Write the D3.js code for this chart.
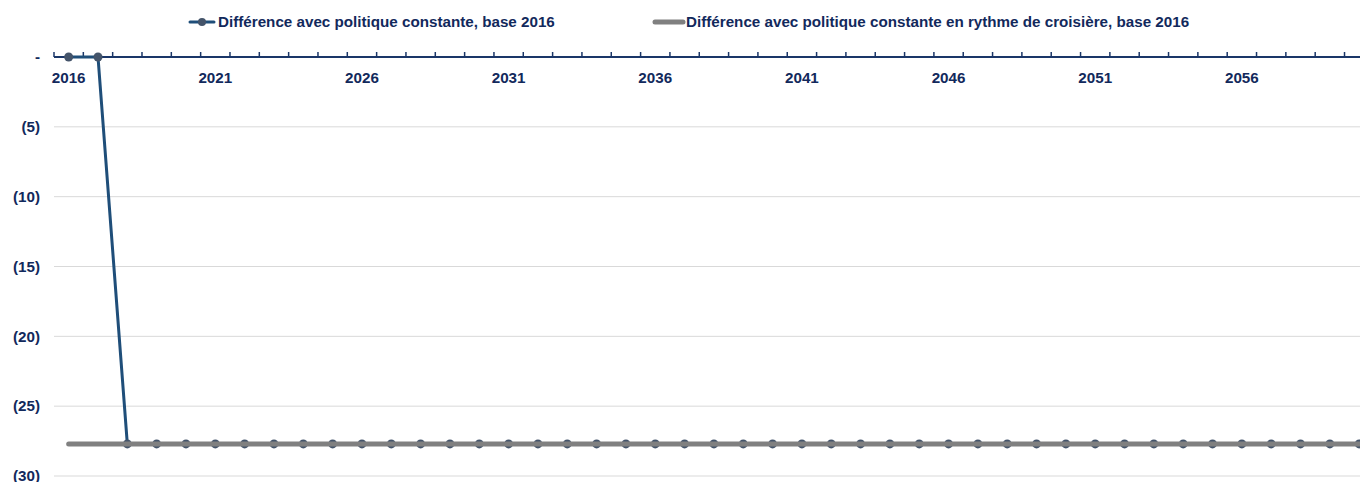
<!DOCTYPE html>
<html>
<head>
<meta charset="utf-8">
<script src="https://cdn.jsdelivr.net/npm/d3@7"></script>
<style>
  body { margin: 0; background: #fff; }
  text { font-family: "Liberation Sans", Arial, sans-serif; font-weight: bold; fill: #12295c; }
</style>
</head>
<body>
<div id="chart"></div>
<script>
var years = d3.range(2016, 2061);
var serieConstante = [0, 0].concat(d3.range(2018, 2061).map(function() { return -27.7; }));
var serieCroisiere = years.map(function() { return -27.7; });
var yTicks = [0, -5, -10, -15, -20, -25, -30];
var labelsSeries = ["Différence avec politique constante, base 2016",
                    "Différence avec politique constante en rythme de croisière, base 2016"];

var width = 1360, height = 482;
var navy = '#1f4e79', grey = '#808080', dot = '#44546a';
var fs = '15.2px';

var x = d3.scaleBand().domain(years).range([54, 54 + years.length * 29.33]);
var y = d3.scaleLinear().domain([0, -30]).range([57, 476]);

var svg = d3.select('#chart').append('svg').attr('width', width).attr('height', height);

// grid
svg.append('g').selectAll('line').data(yTicks.filter(function(d) { return d !== 0; })).enter()
  .append('line')
  .attr('x1', 54).attr('x2', width)
  .attr('y1', function(d) { return y(d); }).attr('y2', function(d) { return y(d); })
  .attr('stroke', '#d9d9d9').attr('stroke-width', 1);

// y labels
svg.append('g').selectAll('text').data(yTicks).enter()
  .append('text')
  .attr('x', 40).attr('y', function(d) { return y(d); })
  .attr('dy', '0.35em').attr('text-anchor', 'end').style('font-size', fs)
  .text(function(d) { return d === 0 ? '-' : '(' + (-d) + ')'; });

// x axis at zero
var xa = svg.append('g');
xa.append('line').attr('x1', 54).attr('x2', width).attr('y1', y(0)).attr('y2', y(0))
  .attr('stroke', '#1a3668').attr('stroke-width', 2);
xa.selectAll('.tk').data(years).enter().append('line')
  .attr('x1', function(d) { return x(d); }).attr('x2', function(d) { return x(d); })
  .attr('y1', y(0)).attr('y2', y(0) - 5)
  .attr('stroke', '#1a3668').attr('stroke-width', 1.5);
xa.selectAll('text').data(years.filter(function(d) { return (d - 2016) % 5 === 0; })).enter()
  .append('text')
  .attr('x', function(d) { return x(d) + x.bandwidth() / 2; })
  .attr('y', y(0) + 26).attr('text-anchor', 'middle').style('font-size', fs)
  .text(function(d) { return d; });

var cx = function(d, i) { return x(years[i]) + x.bandwidth() / 2; };
var line = d3.line().x(cx).y(function(d) { return y(d); });

svg.append('path').datum(serieConstante).attr('d', line)
  .attr('fill', 'none').attr('stroke', navy).attr('stroke-width', 3);
svg.append('g').selectAll('circle').data(serieConstante).enter().append('circle')
  .attr('cx', cx).attr('cy', function(d) { return y(d); }).attr('r', 4.5).attr('fill', dot);
svg.append('path').datum(serieCroisiere).attr('d', line)
  .attr('fill', 'none').attr('stroke', grey).attr('stroke-width', 5).attr('stroke-linecap', 'round');

// legend
var ly = 22;
var lg = svg.append('g');
lg.append('line').attr('x1', 190).attr('x2', 214).attr('y1', ly).attr('y2', ly)
  .attr('stroke', navy).attr('stroke-width', 3).attr('stroke-linecap', 'round');
lg.append('circle').attr('cx', 202).attr('cy', ly).attr('r', 4).attr('fill', dot);
lg.append('text').attr('x', 218).attr('y', ly).attr('dy', '0.35em').style('font-size', fs).text(labelsSeries[0]);
lg.append('line').attr('x1', 655).attr('x2', 683).attr('y1', ly).attr('y2', ly)
  .attr('stroke', grey).attr('stroke-width', 5).attr('stroke-linecap', 'round');
lg.append('text').attr('x', 686).attr('y', ly).attr('dy', '0.35em').style('font-size', fs).text(labelsSeries[1]);
</script>
</body>
</html>
